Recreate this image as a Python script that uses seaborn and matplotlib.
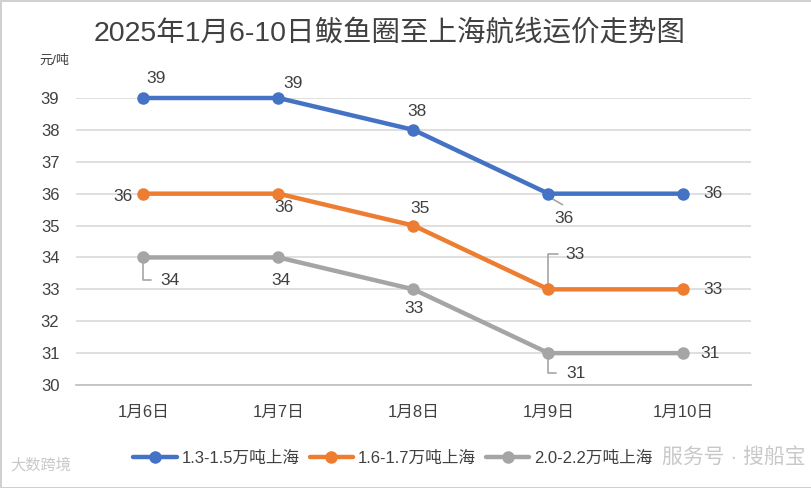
import pandas as pd
import matplotlib.pyplot as plt
import seaborn as sns

# data
dates = ["1月6日", "1月7日", "1月8日", "1月9日", "1月10日"]
series_names = ["1.3-1.5万吨上海", "1.6-1.7万吨上海", "2.0-2.2万吨上海"]
price_small = [39, 39, 38, 36, 36]
price_mid = [36, 36, 35, 33, 33]
price_large = [34, 34, 33, 31, 31]
colors = ["#4472C4", "#ED7D31", "#A5A5A5"]

df = pd.DataFrame({
    "date": dates * 3,
    "route": [series_names[0]] * 5 + [series_names[1]] * 5 + [series_names[2]] * 5,
    "price": price_small + price_mid + price_large,
})

sns.set_theme(style="white")
plt.rcParams["font.family"] = ["Liberation Sans", "Noto Sans CJK SC", "DejaVu Sans"]
txt = "#404040"

fig = plt.figure(figsize=(8.12, 4.88), dpi=100)
ax = fig.add_axes([76 / 812, 1 - 385 / 488, 675 / 812, 287 / 488])

sns.lineplot(data=df, x="date", y="price", hue="route", hue_order=series_names,
             palette=colors, marker="o", markersize=9, markeredgewidth=0,
             linewidth=3.2, sort=False, ax=ax, clip_on=False)

ax.set_xlim(-0.5, 4.5)
ax.set_ylim(30, 39)
ax.set_yticks(range(30, 40))
ax.yaxis.grid(True, color="#D9D9D9", linewidth=1.2)
ax.set_axisbelow(True)
for s in ["left", "right", "top"]:
    ax.spines[s].set_visible(False)
ax.spines["bottom"].set_color("#BFBFBF")
ax.spines["bottom"].set_linewidth(1.2)
ax.set_xticks(range(5))
ax.set_xticklabels(dates)
ax.set_xticks([i - 0.5 for i in range(6)], minor=True)
ax.tick_params(axis="x", which="major", length=0, pad=14, labelsize=12, labelcolor=txt)
ax.tick_params(axis="x", which="minor", length=6, width=1.2, color="#BFBFBF", direction="out")
ax.tick_params(axis="y", length=0, pad=12, labelsize=12, labelcolor=txt)
ax.set_xlabel("")
ax.set_ylabel("")

# data labels: (dx, dy) in pixels from the point, optional elbow leader line
label_offsets = [
    [(13, 20), (15, 15), (3, 18), (15, -25), (29, 0)],
    [(-21, -3), (5, -14), (7, 17), (26, 35), (29, 0)],
    [(26, -23), (2, -23), (0, -19), (28, -20), (27, 0)],
]
leaders = {(0, 3): "diag", (1, 3): "up", (2, 0): "down", (2, 3): "down"}
for si, vals in enumerate([price_small, price_mid, price_large]):
    for xi, v in enumerate(vals):
        dx, dy = label_offsets[si][xi]
        ax.annotate(str(v), (xi, v), xytext=(dx, dy), textcoords="offset pixels",
                    ha="center", va="center", fontsize=12.5, color=txt)
        kind = leaders.get((si, xi))
        if kind:
            tr = ax.transData
            px, py = tr.transform((xi, v))
            inv = tr.inverted()
            if kind == "diag":
                pts = [(px, py - 3), (px + 14, py - 11)]
            elif kind == "up":
                pts = [(px, py + 4), (px, py + dy), (px + 10, py + dy)]
            else:
                pts = [(px, py - 4), (px, py + dy), (px + 8, py + dy)]
            xs, ys = zip(*[inv.transform(p) for p in pts])
            ax.plot(xs, ys, color="#A5A5A5", linewidth=1.2, clip_on=False, zorder=1)

ax.legend(loc="center", bbox_to_anchor=(393 / 812, 1 - 458 / 488),
          bbox_transform=fig.transFigure, ncol=3, frameon=False, fontsize=12,
          handlelength=2.6, columnspacing=0.6, handletextpad=0.3, labelcolor=txt)

fig.text(390 / 812, 1 - 33 / 488, "2025年1月6-10日鲅鱼圈至上海航线运价走势图",
         ha="center", va="center", fontsize=20.5, color=txt)
fig.text(54 / 812, 1 - 61 / 488, "元/吨", ha="center", va="center", fontsize=9.5, color=txt)

# watermarks
fig.text(10 / 812, 1 - 465 / 488, "大数跨境", ha="left", va="center", fontsize=11,
         color="#C8C8C8")
fig.text(662 / 812, 1 - 457 / 488, "服务号 · 搜船宝", ha="left", va="center",
         fontsize=15, color="#BBBBBB", alpha=0.8)

fig.patch.set_edgecolor("#D0D0D0")
fig.patch.set_linewidth(2)
fig.savefig("out.png", dpi=100, edgecolor=fig.get_edgecolor())
